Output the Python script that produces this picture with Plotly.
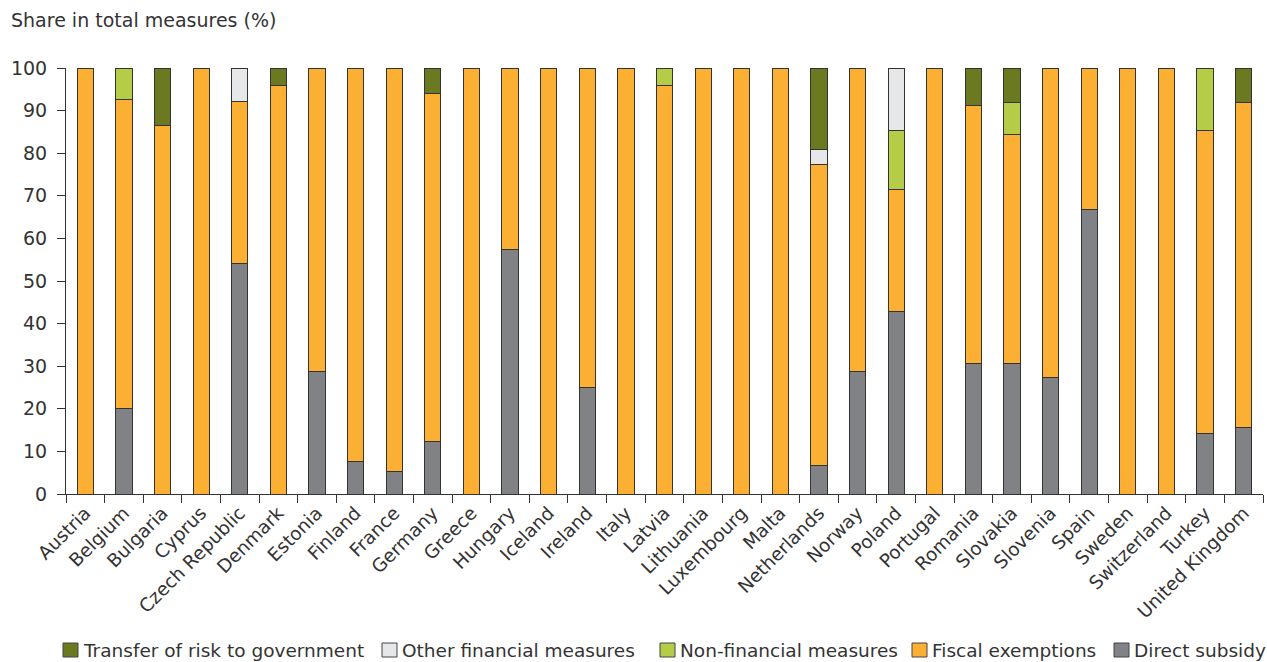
import plotly.graph_objects as go

countries = ["Austria", "Belgium", "Bulgaria", "Cyprus", "Czech Republic", "Denmark",
             "Estonia", "Finland", "France", "Germany", "Greece", "Hungary", "Iceland",
             "Ireland", "Italy", "Latvia", "Lithuania", "Luxembourg", "Malta",
             "Netherlands", "Norway", "Poland", "Portugal", "Romania", "Slovakia",
             "Slovenia", "Spain", "Sweden", "Switzerland", "Turkey", "United Kingdom"]

direct_subsidy = [0, 20.0, 0, 0, 54.1, 0, 28.7, 7.6, 5.3, 12.3, 0, 57.3, 0, 25.0, 0, 0,
                  0, 0, 0, 6.6, 28.7, 42.8, 0, 30.7, 30.7, 27.3, 66.7, 0, 0, 14.2, 15.6]
fiscal_exemptions = [100, 72.5, 86.4, 100, 38.0, 95.9, 71.3, 92.4, 94.7, 81.7, 100, 42.7,
                     100, 75.0, 100, 95.8, 100, 100, 100, 70.8, 71.3, 28.7, 100, 60.4,
                     53.8, 72.7, 33.3, 100, 100, 71.2, 76.4]
non_financial = [0, 7.5, 0, 0, 0, 0, 0, 0, 0, 0, 0, 0, 0, 0, 0, 4.2, 0, 0, 0, 0, 0, 13.9,
                 0, 0, 7.5, 0, 0, 0, 0, 14.6, 0]
other_financial = [0, 0, 0, 0, 7.9, 0, 0, 0, 0, 0, 0, 0, 0, 0, 0, 0, 0, 0, 0, 3.4, 0, 14.6,
                   0, 0, 0, 0, 0, 0, 0, 0, 0]
transfer_of_risk = [0, 0, 13.6, 0, 0, 4.1, 0, 0, 0, 6.0, 0, 0, 0, 0, 0, 0, 0, 0, 0, 19.2, 0,
                    0, 0, 8.9, 8.0, 0, 0, 0, 0, 0, 8.0]

series = [
    ("Direct subsidy", direct_subsidy, "#808285"),
    ("Fiscal exemptions", fiscal_exemptions, "#fbb034"),
    ("Non-financial measures", non_financial, "#b4cc46"),
    ("Other financial measures", other_financial, "#e6e7e8"),
    ("Transfer of risk to government", transfer_of_risk, "#6b7920"),
]

fig = go.Figure()
for name, vals, col in series:
    fig.add_trace(go.Bar(
        x=countries, y=vals, name=name, showlegend=False,
        marker=dict(color=col, line=dict(color="#333333", width=1)),
    ))

# Page body margin is removed in the page (post_script), so figure fills the window.
W, H = 1267, 662
L, R, T, B = 66, 4, 68, 168
pw, ph = W - L - R, H - T - B


def px_x(x_page):
    return (x_page - L) / pw


def px_y(y_page):
    return (T + ph - y_page) / ph


font_family = "DejaVu Sans, Verdana, sans-serif"
text_color = "#333333"

annotations = [dict(text="Share in total measures (%)", xref="paper", yref="paper",
                    x=px_x(9), y=px_y(20), showarrow=False, xanchor="left",
                    yanchor="middle", font=dict(size=19, color=text_color))]
shapes = []

# Custom legend row (reversed series order), placed as in the reference
legend_symbol_x = [63, 382, 660, 912, 1114]
sym_w, sym_top, sym_bot, legend_y = 15, 643, 657, 650
for (name, _, col), sx in zip(reversed(series), legend_symbol_x):
    shapes.append(dict(type="rect", xref="paper", yref="paper",
                       x0=px_x(sx), x1=px_x(sx + sym_w), y0=px_y(sym_bot), y1=px_y(sym_top),
                       fillcolor=col, line=dict(color="#444444", width=1)))
    annotations.append(dict(text=name, xref="paper", yref="paper",
                            x=px_x(sx + sym_w + 3), y=px_y(legend_y), showarrow=False,
                            xanchor="left", yanchor="middle",
                            font=dict(size=18.5, color=text_color)))

fig.update_layout(
    barmode="stack",
    bargap=0.58,
    width=W, height=H,
    margin=dict(l=L, r=R, t=T, b=B, autoexpand=False),
    plot_bgcolor="white",
    paper_bgcolor="white",
    font=dict(family=font_family, size=18, color=text_color),
    showlegend=False,
    annotations=annotations,
    shapes=shapes,
)
fig.update_xaxes(
    tickangle=-45, tickson="boundaries", ticks="outside", ticklen=8,
    tickcolor="#333333", showline=True, linecolor="#333333", linewidth=1,
    showgrid=False, tickfont=dict(size=18.5), automargin=False,
)
fig.update_yaxes(
    range=[0, 100], dtick=10, ticks="outside", ticklen=8, tickcolor="#333333",
    showline=True, linecolor="#333333", linewidth=1, showgrid=False,
    tickfont=dict(size=19), zeroline=False, automargin=False,
    ticklabelstandoff=6,
)
fig.write_html(
    "out.html",
    config={"displayModeBar": False},
    post_script="document.body.style.margin='0';document.body.style.overflow='hidden';",
)
